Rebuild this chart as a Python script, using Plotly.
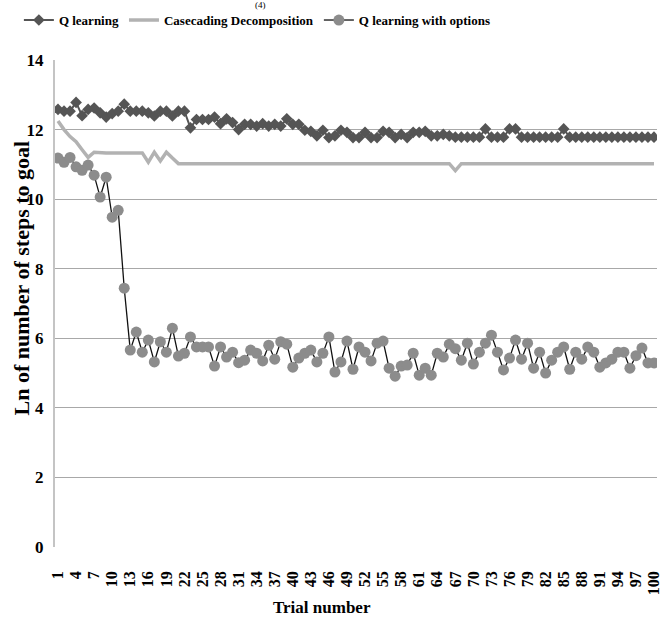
import plotly.graph_objects as go

trials = list(range(1, 101))
tick_vals = list(range(1, 101, 3))
tick_text = [str(v) for v in tick_vals]
y_ticks = [0, 2, 4, 6, 8, 10, 12, 14]

q_learning = [
    12.58, 12.53, 12.53, 12.78, 12.40, 12.58, 12.62, 12.48, 12.36, 12.46,
    12.53, 12.73, 12.53, 12.53, 12.53, 12.48, 12.39, 12.53, 12.53, 12.39,
    12.53, 12.53, 12.05, 12.29, 12.29, 12.29, 12.36, 12.17, 12.31, 12.20,
    12.00, 12.15, 12.15, 12.10, 12.17, 12.10, 12.15, 12.10, 12.31, 12.15,
    12.15, 11.98, 11.95, 11.82, 11.98, 11.77, 11.82, 11.98, 11.92, 11.77,
    11.77, 11.92, 11.77, 11.77, 11.95, 11.92, 11.77, 11.86, 11.77, 11.92,
    11.92, 11.95, 11.82, 11.82, 11.86, 11.82, 11.78, 11.78, 11.78, 11.78,
    11.78, 12.02, 11.78, 11.78, 11.78, 12.02, 12.02, 11.78, 11.78, 11.78,
    11.78, 11.78, 11.78, 11.78, 12.02, 11.78, 11.78, 11.78, 11.78, 11.78,
    11.78, 11.78, 11.78, 11.78, 11.78, 11.78, 11.78, 11.78, 11.78, 11.78,
]

casecading = [
    12.25, 12.00, 11.80, 11.65, 11.42, 11.20, 11.35, 11.33, 11.33, 11.33,
    11.33, 11.33, 11.33, 11.33, 11.33, 11.06, 11.35, 11.10, 11.35, 11.18,
    11.02, 11.02, 11.02, 11.02, 11.02, 11.02, 11.02, 11.02, 11.02, 11.02,
    11.02, 11.02, 11.02, 11.02, 11.02, 11.02, 11.02, 11.02, 11.02, 11.02,
    11.02, 11.02, 11.02, 11.02, 11.02, 11.02, 11.02, 11.02, 11.02, 11.02,
    11.02, 11.02, 11.02, 11.02, 11.02, 11.02, 11.02, 11.02, 11.02, 11.02,
    11.02, 11.02, 11.02, 11.02, 11.02, 11.02, 10.82, 11.02, 11.02, 11.02,
    11.02, 11.02, 11.02, 11.02, 11.02, 11.02, 11.02, 11.02, 11.02, 11.02,
    11.02, 11.02, 11.02, 11.02, 11.02, 11.02, 11.02, 11.02, 11.02, 11.02,
    11.02, 11.02, 11.02, 11.02, 11.02, 11.02, 11.02, 11.02, 11.02, 11.02,
]

q_options = [
    11.18, 11.06, 11.20, 10.93, 10.83, 10.98, 10.69, 10.06, 10.63, 9.48,
    9.68, 7.44, 5.66, 6.18, 5.60, 5.95, 5.32, 5.90, 5.60, 6.29,
    5.49, 5.57, 6.04, 5.75, 5.75, 5.75, 5.20, 5.75, 5.46, 5.60,
    5.30, 5.37, 5.66, 5.57, 5.35, 5.80, 5.40, 5.90, 5.83, 5.17,
    5.43, 5.57, 5.66, 5.32, 5.57, 6.04, 5.03, 5.32, 5.92, 5.11,
    5.75, 5.60, 5.35, 5.86, 5.92, 5.14, 4.91, 5.20, 5.23, 5.57,
    4.94, 5.14, 4.94, 5.57, 5.46, 5.83, 5.70, 5.37, 5.86, 5.26,
    5.60, 5.86, 6.09, 5.60, 5.09, 5.43, 5.95, 5.40, 5.86, 5.14,
    5.60, 5.00, 5.37, 5.60, 5.75, 5.11, 5.60, 5.40, 5.75, 5.60,
    5.17, 5.29, 5.40, 5.60, 5.60, 5.14, 5.50, 5.72, 5.29, 5.29,
]

FONT = "Liberation Serif"

fig = go.Figure()
fig.add_trace(go.Scatter(
    x=trials, y=q_learning, name="Q learning", mode="lines+markers",
    line=dict(color="#555555", width=2),
    marker=dict(symbol="diamond", size=9, color="#555555"),
))
fig.add_trace(go.Scatter(
    x=trials, y=casecading, name="Casecading Decomposition", mode="lines",
    line=dict(color="#b2b2b2", width=3.5),
))
fig.add_trace(go.Scatter(
    x=trials, y=q_options, name="Q learning with options", mode="lines+markers",
    line=dict(color="#111111", width=1.3),
    marker=dict(symbol="circle", size=11, color="#8c8c8c"),
))

fig.update_layout(
    width=662, height=627,
    margin=dict(l=55, r=0, t=60, b=80),
    plot_bgcolor="white", paper_bgcolor="white",
    font=dict(family=FONT, color="#000000"),
    showlegend=True,
    legend=dict(
        orientation="h", x=-0.06, xanchor="left", y=1.082, yanchor="middle",
        font=dict(family=FONT, size=13, color="#000000", weight="bold"),
        itemwidth=30, tracegroupgap=0, bgcolor="rgba(0,0,0,0)",
    ),
    xaxis=dict(
        range=[0.5, 100.5], tickmode="array", tickvals=tick_vals, ticktext=tick_text,
        tickangle=-90, tickfont=dict(family=FONT, size=16, weight="bold"),
        showgrid=False, zeroline=False, showline=False, ticks="",
        ticklabelstandoff=20, ticklabeloverflow="allow",
    ),
    yaxis=dict(
        range=[0, 14], tickmode="array", tickvals=y_ticks,
        tickfont=dict(family=FONT, size=17, weight="bold"),
        showgrid=True, gridcolor="#a8a8a8", gridwidth=1, zeroline=False,
        showline=True, linecolor="#c4c4c4", linewidth=2, ticks="",
        ticklabelstandoff=6,
    ),
    annotations=[
        dict(text="Ln of number of steps to goal", xref="paper", yref="paper",
             x=(21 - 55) / 607, y=0.552, xanchor="center", yanchor="middle", textangle=-90,
             showarrow=False, font=dict(family=FONT, size=22, weight="bold")),
        dict(text="Trial number", xref="paper", yref="paper",
             x=0.443, y=-0.125, xanchor="center", yanchor="middle",
             showarrow=False, font=dict(family=FONT, size=17, weight="bold")),
        dict(text="(4)", xref="paper", yref="paper",
             x=(262 - 55) / 607, y=(547 - 5) / 487, xanchor="center", yanchor="middle",
             showarrow=False, font=dict(family=FONT, size=9)),
    ],
)

fig.write_html("out.html", config={"displayModeBar": False},
               post_script="document.body.style.margin='0';")
